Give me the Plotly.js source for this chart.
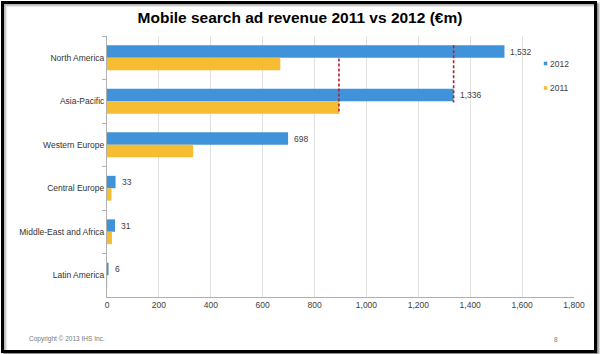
<!DOCTYPE html>
<html>
<head>
<meta charset="utf-8">
<script src="https://cdn.plot.ly/plotly-3.0.1.min.js"></script>
<style>
  html, body { margin: 0; padding: 0; background: #fff; }
  #wrap { position: relative; width: 600px; height: 354px; overflow: hidden; }
  #chart { position: absolute; left: 0; top: 0; width: 600px; height: 354px; }
  #frame { position: absolute; left: 1px; top: 1px; width: 596px; height: 352px; box-sizing: border-box;
           border: 3px solid #000; pointer-events: none;
           box-shadow: 2px 2px 2px #8a8a8a, inset 2px 2px 2px #b5b5b5; }
</style>
</head>
<body>
<div id="wrap"><div id="chart"></div><div id="frame"></div></div>
<script>
const categories = ["North America", "Asia-Pacific", "Western Europe", "Central Europe", "Middle-East and Africa", "Latin America"];
const seriesNames = ["2012", "2011"];
const values2012 = [1532, 1336, 698, 33, 31, 6];
const values2011 = [668, 894, 332, 17, 19, 1];
const xTickValues = [0, 200, 400, 600, 800, 1000, 1200, 1400, 1600, 1800];
const titleText = "Mobile search ad revenue 2011 vs 2012 (€m)";
const footerText = "Copyright © 2013 IHS Inc.";
const pageNumber = "8";

const blue = "#4193d9";
const yellow = "#f6bd32";
const FONT = "Liberation Sans, Arial, sans-serif";

const W = 600, H = 354;
const M = { l: 107, r: 26, t: 36, b: 57 };
const pw = W - M.l - M.r, ph = H - M.t - M.b;
const px = x => (x - M.l) / pw;
const py = y => (H - M.b - y) / ph;

const bargap = 0.43;
const half = (1 - bargap) / 2;

const fmt = v => v.toLocaleString("en-US");

const traces = [
  { type: "bar", orientation: "h", name: seriesNames[0], y: categories, x: values2012,
    marker: { color: blue }, hoverinfo: "x+y" },
  { type: "bar", orientation: "h", name: seriesNames[1], y: categories, x: values2011,
    marker: { color: yellow }, hoverinfo: "x+y" }
];

const annotations = values2012.map((v, i) => ({
  x: v, y: i - half / 2, xref: "x", yref: "y", text: fmt(v), showarrow: false,
  xanchor: "left", yanchor: "middle", xshift: 4,
  font: { family: FONT, size: 8.5, color: "#404040" }
}));

// legend (text + small squares)
const legendY = [63.5, 88];
seriesNames.forEach((n, i) => {
  annotations.push({ x: px(548), y: py(legendY[i]), xref: "paper", yref: "paper", text: n,
    showarrow: false, xanchor: "left", yanchor: "middle",
    font: { family: FONT, size: 8.5, color: "#404040" } });
});
annotations.push({ x: px(27), y: py(339), xref: "paper", yref: "paper", text: footerText,
  showarrow: false, xanchor: "left", yanchor: "middle",
  font: { family: FONT, size: 6.5, color: "#777" } });
annotations.push({ x: px(556), y: py(339), xref: "paper", yref: "paper", text: pageNumber,
  showarrow: false, xanchor: "center", yanchor: "middle",
  font: { family: FONT, size: 6.5, color: "#777" } });

const dashLine = { color: "#b3202e", width: 1.6, dash: "3px,2px" };
const shapes = [
  { type: "line", xref: "x", yref: "y", x0: values2012[1], x1: values2012[1], y0: -half, y1: 1.03,
    line: dashLine },
  { type: "line", xref: "x", yref: "y", x0: values2011[1], x1: values2011[1], y0: 0.02, y1: 1 + half,
    line: dashLine }
];
[blue, yellow].forEach((c, i) => {
  shapes.push({ type: "rect", xref: "paper", yref: "paper",
    x0: px(543.8), x1: px(547.3), y0: py(legendY[i] - 1.8), y1: py(legendY[i] + 1.8),
    fillcolor: c, line: { width: 0 } });
});

const layout = {
  width: W, height: H,
  margin: M,
  paper_bgcolor: "#fff", plot_bgcolor: "#fff",
  showlegend: false,
  barmode: "group", bargap: bargap, bargroupgap: 0,
  title: { text: titleText, x: 0.5, xanchor: "center", y: 1 - 18 / H, yanchor: "middle", yref: "container",
    font: { family: FONT, size: 15.5, weight: "bold", color: "#000" } },
  xaxis: {
    range: [0, 1800], tickvals: xTickValues, ticktext: xTickValues.map(fmt),
    showgrid: true, gridcolor: "#e0e0e0", gridwidth: 1,
    showline: true, linecolor: "#b0b0b0", linewidth: 1, zeroline: false,
    ticks: "", tickfont: { family: FONT, size: 8.5, color: "#404040" }
  },
  yaxis: {
    type: "category", autorange: "reversed", showgrid: false, zeroline: false,
    showline: true, linecolor: "#b0b0b0", linewidth: 1,
    ticks: "outside", tickson: "boundaries", ticklen: 4, tickcolor: "#b0b0b0",
    tickfont: { family: FONT, size: 8.5, color: "#333" }
  },
  annotations: annotations,
  shapes: shapes
};

Plotly.newPlot("chart", traces, layout, { staticPlot: true, displayModeBar: false });
</script>
</body>
</html>
